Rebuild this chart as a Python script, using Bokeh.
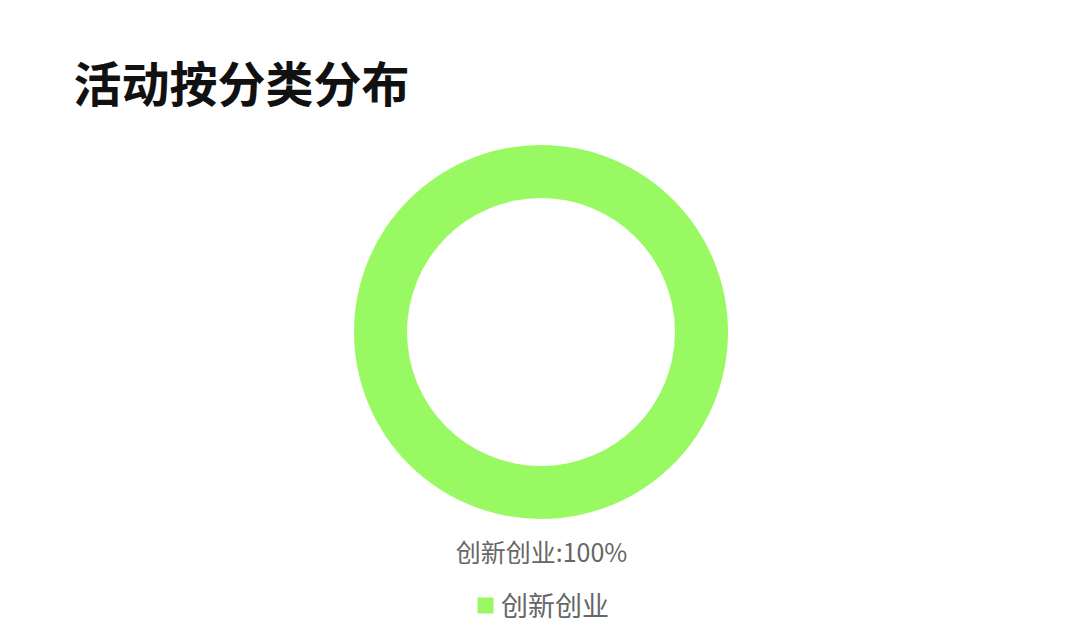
import math
from bokeh.plotting import figure
from bokeh.models import ColumnDataSource, Legend, LegendItem
from bokeh.core.properties import value
from bokeh.embed import file_html
from bokeh.resources import INLINE

title_text = "活动按分类分布"
categories = ["创新创业"]
values = [100]
colors = ["#99f962"]

W, H = 1069, 625
p = figure(width=W, height=H, x_range=(0, W), y_range=(0, H),
           output_backend="svg", toolbar_location=None,
           min_border=0, outline_line_color=None)
p.axis.visible = False
p.grid.visible = False
p.background_fill_color = "white"
p.border_fill_color = "white"

total = sum(values)
starts, ends = [], []
acc = 0.0
for v in values:
    a0 = math.pi / 2 - 2 * math.pi * acc / total
    acc += v
    a1 = math.pi / 2 - 2 * math.pi * acc / total
    starts.append(a1)
    ends.append(a0)
pcts = [f"{c}:{round(100 * v / total)}%" for c, v in zip(categories, values)]

src = ColumnDataSource(dict(x=[540.5] * len(values), y=[293.5] * len(values),
                            start=starts, end=ends, color=colors, cat=categories))
r = p.annular_wedge(x="x", y="y", inner_radius=134, outer_radius=187,
                    inner_radius_units="screen", outer_radius_units="screen",
                    start_angle="start", end_angle="end", direction="anticlock",
                    fill_color="color", line_color=None, source=src)

# title
p.text(x=[73], y=[545], text=[title_text], text_font=value("Noto Sans CJK SC"),
       text_font_style="bold", text_font_size="48px", text_color="#111111",
       text_baseline="middle", text_align="left")

# slice label
p.text(x=[541], y=[75], text=pcts, text_font=value("Noto Sans CJK SC"),
       text_font_size="25px", text_color="#666666",
       text_baseline="middle", text_align="center")

legend = Legend(items=[LegendItem(label=c, renderers=[r], index=i) for i, c in enumerate(categories)],
                location=(475, 1), orientation="horizontal",
                glyph_width=20, glyph_height=20, label_standoff=6,
                label_text_font="Noto Sans CJK SC", label_text_font_size="27px",
                label_text_color="#666666", padding=0, margin=0,
                border_line_color=None, background_fill_alpha=0)
p.add_layout(legend, "center")

open("out.html", "w").write(file_html(p, INLINE))
